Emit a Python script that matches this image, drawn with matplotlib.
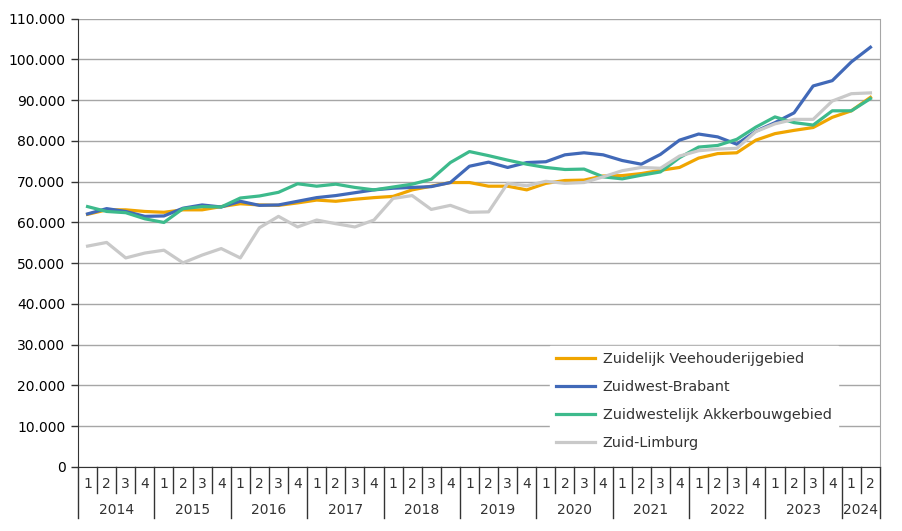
import matplotlib
matplotlib.use("Agg")
import matplotlib.pyplot as plt
from matplotlib.ticker import FuncFormatter

# quarterly data 2014 Q1 .. 2024 Q2
years = [2014, 2015, 2016, 2017, 2018, 2019, 2020, 2021, 2022, 2023, 2024]
quarters_per_year = [4, 4, 4, 4, 4, 4, 4, 4, 4, 4, 2]

zuidelijk_veehouderij = [
    62000, 63100, 63100, 62700,
    62500, 63100, 63100, 63900,
    64600, 64300, 64200, 64800,
    65500, 65200, 65700, 66100,
    66400, 68000, 68900, 69800,
    69800, 68900, 68900, 68000,
    69600, 70300, 70400, 71400,
    71500, 72000, 72800, 73500,
    75800, 76900, 77100, 80200,
    81800, 82600, 83300, 85800,
    87400, 90700,
]
zuidwest_brabant = [
    62100, 63400, 62700, 61500,
    61600, 63500, 64300, 63800,
    65200, 64200, 64300, 65200,
    66100, 66600, 67300, 68000,
    68400, 68600, 68800, 69800,
    73800, 74800, 73500, 74700,
    74900, 76600, 77100, 76600,
    75200, 74300, 76700, 80200,
    81700, 81000, 79200, 82400,
    84500, 86900, 93500, 94800,
    99400, 103000,
]
zuidwestelijk_akkerbouw = [
    63900, 62700, 62400, 60900,
    60000, 63400, 63900, 63800,
    66000, 66500, 67400, 69500,
    68900, 69400, 68600, 68000,
    68700, 69400, 70600, 74700,
    77400, 76400, 75300, 74300,
    73500, 73000, 73100, 71200,
    70700, 71600, 72400, 75900,
    78500, 78900, 80400, 83400,
    85900, 84500, 83900, 87400,
    87400, 90400,
]
zuid_limburg = [
    54200, 55100, 51300, 52500,
    53200, 50100, 52000, 53600,
    51300, 58700, 61500, 58900,
    60600, 59700, 58900, 60600,
    65900, 66600, 63200, 64200,
    62500, 62600, 69600, 69000,
    70100, 69600, 69800, 71200,
    72700, 73500, 73300, 76300,
    77600, 78000, 78200, 82300,
    84200, 85300, 85300, 89800,
    91600, 91800,
]

series = [
    ("Zuidelijk Veehouderijgebied", zuidelijk_veehouderij, "#F0A500"),
    ("Zuidwest-Brabant", zuidwest_brabant, "#4169B8"),
    ("Zuidwestelijk Akkerbouwgebied", zuidwestelijk_akkerbouw, "#3DBA8C"),
    ("Zuid-Limburg", zuid_limburg, "#C9C9C9"),
]

W, H = 903, 531
fig = plt.figure(figsize=(W / 100, H / 100), dpi=100)
left, right, top, bottom = 78, 880, 18.7, 467
ax = fig.add_axes([left / W, 1 - bottom / H, (right - left) / W, (bottom - top) / H])
axh = bottom - top

n = len(zuid_limburg)
xs = [i + 0.5 for i in range(n)]
for name, vals, col in series:
    ax.plot(xs, vals, color=col, lw=2.3, label=name)

ax.set_xlim(0, n)
ax.set_ylim(0, 110000)
ax.set_yticks(range(0, 110001, 10000))
ax.yaxis.set_major_formatter(FuncFormatter(lambda v, p: f"{int(v):,}".replace(",", ".")))
ax.grid(axis="y", color="#A6A6A6", lw=1)
ax.set_axisbelow(True)
ax.set_xticks([])
ax.tick_params(axis="y", labelsize=10, length=5, width=1, color="#333333", pad=4)
ax.spines["top"].set_visible(False)
ax.spines["right"].set_color("#A6A6A6")
ax.spines["left"].set_color("#333333")
ax.spines["bottom"].set_color("#333333")

# two level category axis
tr = ax.get_xaxis_transform()
q_row = 26 / axh
y_row = 51 / axh
pos = 0
for yr, nq in zip(years, quarters_per_year):
    for q in range(nq):
        ax.text(pos + q + 0.5, -17 / axh, str(q + 1), transform=tr,
                ha="center", va="center", fontsize=10, color="#333333")
        if q > 0:
            ax.plot([pos + q, pos + q], [0, -q_row], transform=tr,
                    color="#333333", lw=1, clip_on=False)
    ax.plot([pos, pos], [0, -y_row], transform=tr, color="#333333", lw=1, clip_on=False)
    ax.text(pos + nq / 2, -43 / axh, str(yr), transform=tr,
            ha="center", va="center", fontsize=10, color="#333333")
    pos += nq
ax.plot([pos, pos], [0, -y_row], transform=tr, color="#333333", lw=1, clip_on=False)

leg = ax.legend(loc="upper left", bbox_to_anchor=((550 - left) / (right - left), (bottom - 346) / axh),
                frameon=True, fontsize=10.4, handlelength=2.7, handletextpad=0.5,
                labelspacing=0.95, borderpad=0.45, borderaxespad=0)
leg.get_frame().set_edgecolor("white")
leg.get_frame().set_facecolor("white")
leg.get_frame().set_alpha(1)
leg.get_frame().set_boxstyle("square", pad=0)
for t in leg.get_texts():
    t.set_color("#333333")

fig.savefig("out.png", dpi=100)
